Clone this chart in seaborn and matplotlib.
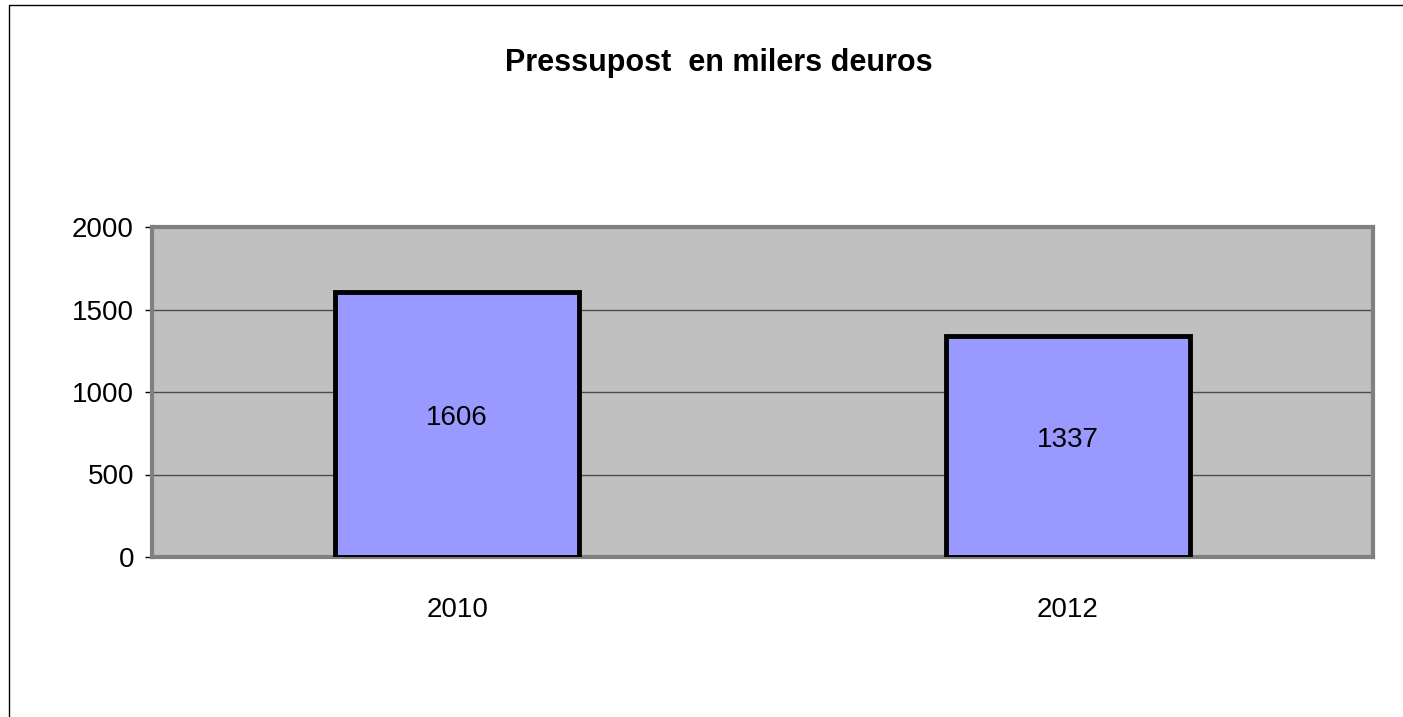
import matplotlib
matplotlib.use("Agg")
import matplotlib.pyplot as plt
import matplotlib.patches as mpatches
import seaborn as sns
import pandas as pd

# data
years = ["2010", "2012"]
budget = [1606, 1337]
title = "Pressupost  en milers deuros"
y_ticks = [0, 500, 1000, 1500, 2000]

df = pd.DataFrame({"year": years, "budget": budget})

sns.set_style("white")
plt.rcParams["font.family"] = ["Liberation Sans", "DejaVu Sans"]
plt.rcParams["text.color"] = "black"
plt.rcParams["xtick.color"] = "black"
plt.rcParams["ytick.color"] = "black"

fig = plt.figure(figsize=(14.03, 7.17), dpi=100)
fig.patch.set_facecolor("white")
ax = fig.add_axes([152 / 1403, 1 - 557 / 717, (1373 - 152) / 1403, (557 - 227) / 717])
ax.set_facecolor("#C0C0C0")

sns.barplot(data=df, x="year", y="budget", color="#9999FF", saturation=1,
            width=0.4, edgecolor="black", linewidth=3.5, ax=ax, zorder=3)

ax.set_xlim(-0.5, 1.5)
ax.set_ylim(0, 2000)
ax.set_yticks(y_ticks)
ax.set_yticklabels([str(t) for t in y_ticks], fontsize=20, color="black")
ax.set_xticks([0, 1])
ax.set_xticklabels(years, fontsize=20, color="black")
ax.set_xticks([-0.5, 0.5, 1.5], minor=True)
ax.tick_params(axis="x", which="major", length=0, pad=29)
ax.tick_params(axis="x", which="minor", length=6, width=1, color="black", direction="out")
ax.tick_params(axis="y", length=5, width=1, color="black", direction="out", left=True, pad=8)
ax.set_xlabel("")
ax.set_ylabel("")

for t in y_ticks[1:-1]:
    ax.axhline(t, color="#4d4d4d", linewidth=1, zorder=1)

for s in ax.spines.values():
    s.set_visible(True)
    s.set_color("#808080")
    s.set_linewidth(3)

for c in ax.containers:
    txts = ax.bar_label(c, labels=[str(v) for v in budget], label_type="center",
                        fontsize=20, color="black")
    for t in txts:
        x, y = t.get_position()
        t.set_position((x, y + 5))

fig.text(719 / 1403, 1 - 63 / 717, title, ha="center", va="center",
         fontsize=22, fontweight="bold", color="black")

# outer chart border (left and top visible)
fig.patches.append(mpatches.Rectangle((9 / 1403, -0.05), 1.1, 1 - 5 / 717 + 0.05,
                                      transform=fig.transFigure, fill=False,
                                      edgecolor="black", linewidth=1, zorder=0))

fig.savefig("out.png", dpi=100)
